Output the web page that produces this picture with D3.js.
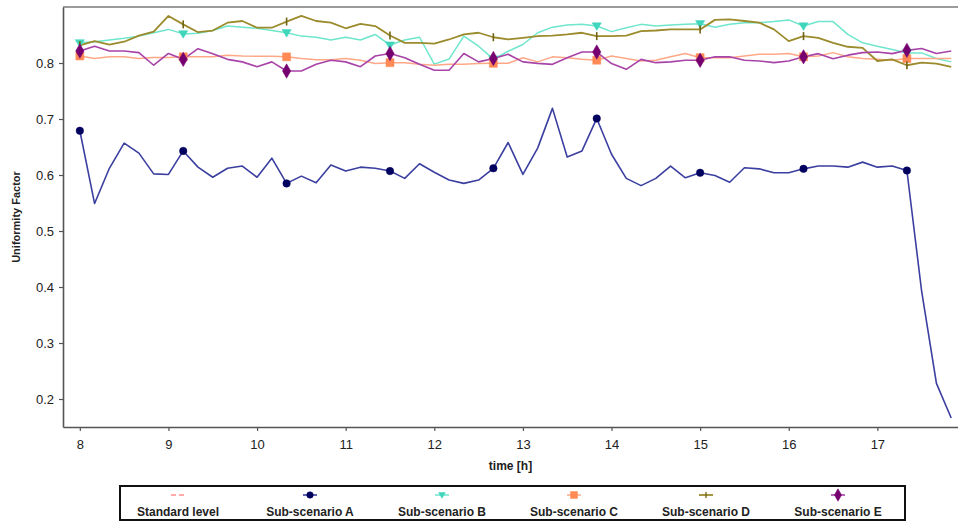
<!DOCTYPE html>
<html>
<head>
<meta charset="utf-8">
<script src="https://cdn.jsdelivr.net/npm/d3@7"></script>
<style>
  body { margin: 0; background: #fff; }
  svg { font-family: "Liberation Sans", Arial, sans-serif; }
</style>
</head>
<body>
<div id="chart"></div>
<script>
const times = [
  "8:00","8:10","8:20","8:30","8:40","8:50","9:00","9:10","9:20","9:30",
  "9:40","9:50","10:00","10:10","10:20","10:30","10:40","10:50","11:00","11:10",
  "11:20","11:30","11:40","11:50","12:00","12:10","12:20","12:30","12:40","12:50",
  "13:00","13:10","13:20","13:30","13:40","13:50","14:00","14:10","14:20","14:30",
  "14:40","14:50","15:00","15:10","15:20","15:30","15:40","15:50","16:00","16:10",
  "16:20","16:30","16:40","16:50","17:00","17:10","17:20","17:30","17:40","17:50"
];

const subA = [
  0.679,0.549,0.612,0.657,0.639,0.602,0.601,0.643,0.614,0.596,
  0.612,0.616,0.596,0.630,0.585,0.598,0.586,0.618,0.607,0.614,
  0.612,0.607,0.594,0.620,0.605,0.591,0.585,0.591,0.612,0.658,
  0.601,0.648,0.719,0.632,0.643,0.701,0.637,0.594,0.581,0.594,
  0.616,0.595,0.604,0.599,0.587,0.613,0.611,0.604,0.604,0.611,
  0.616,0.616,0.614,0.623,0.614,0.616,0.608,0.392,0.228,0.166
];
const subB = [
  0.836,0.838,0.841,0.844,0.848,0.854,0.860,0.852,0.853,0.858,
  0.866,0.864,0.862,0.858,0.854,0.848,0.846,0.841,0.846,0.841,
  0.851,0.832,0.841,0.846,0.798,0.807,0.848,0.830,0.807,0.821,
  0.833,0.854,0.864,0.868,0.869,0.866,0.856,0.863,0.869,0.866,
  0.868,0.869,0.870,0.864,0.869,0.872,0.872,0.874,0.877,0.866,
  0.874,0.874,0.851,0.836,0.830,0.824,0.818,0.818,0.808,0.802
];
const subC = [
  0.8125,0.808,0.811,0.811,0.808,0.810,0.810,0.811,0.811,0.811,
  0.814,0.8125,0.812,0.812,0.811,0.808,0.806,0.806,0.808,0.805,
  0.799,0.8006,0.8006,0.7976,0.796,0.7976,0.7976,0.799,0.7994,0.7994,
  0.8095,0.802,0.811,0.8095,0.8065,0.805,0.8125,0.808,0.8036,0.805,
  0.811,0.817,0.8095,0.8095,0.8095,0.8125,0.8155,0.8155,0.817,0.811,
  0.8125,0.8185,0.811,0.808,0.8065,0.805,0.808,0.808,0.808,0.808
];
const subD = [
  0.8315,0.839,0.833,0.838,0.849,0.856,0.884,0.869,0.855,0.858,
  0.872,0.875,0.863,0.863,0.874,0.884,0.875,0.872,0.862,0.870,
  0.866,0.849,0.836,0.836,0.8345,0.842,0.851,0.854,0.846,0.842,
  0.845,0.848,0.849,0.851,0.854,0.848,0.848,0.849,0.857,0.858,
  0.860,0.860,0.860,0.877,0.878,0.875,0.872,0.860,0.839,0.848,
  0.845,0.836,0.829,0.827,0.8036,0.8065,0.796,0.8006,0.799,0.793
];
const subE = [
  0.8214,0.830,0.8214,0.8214,0.8185,0.796,0.817,0.8065,0.8256,0.8167,
  0.8065,0.802,0.7935,0.802,0.7857,0.7857,0.7976,0.805,0.802,0.7935,
  0.8125,0.817,0.8095,0.7976,0.787,0.787,0.817,0.802,0.808,0.8155,
  0.802,0.7994,0.7976,0.8095,0.8196,0.8196,0.799,0.7887,0.8065,0.8006,
  0.802,0.8048,0.8048,0.811,0.811,0.805,0.8036,0.8006,0.8036,0.811,
  0.8167,0.8077,0.814,0.8185,0.8196,0.8167,0.8226,0.826,0.817,0.8214
];

const xTicks = [8, 9, 10, 11, 12, 13, 14, 15, 16, 17];
const yTicks = [0.2, 0.3, 0.4, 0.5, 0.6, 0.7, 0.8];
const legendNames = ["Standard level", "Sub-scenario A", "Sub-scenario B", "Sub-scenario C", "Sub-scenario D", "Sub-scenario E"];

const W = 958, H = 522;
const plot = { left: 63, right: 958, top: 7, bottom: 427 };
const markerEvery = 7;

const hours = times.map((t) => {
  const [h, m] = t.split(":").map(Number);
  return h + m / 60;
});

const series = [
  { name: "Sub-scenario A", values: subA, line: "#3b3f9f", mark: "#00005e", shape: "circle", width: 1.6 },
  { name: "Sub-scenario B", values: subB, line: "#6fe6cc", mark: "#3fd6bc", shape: "triDown", width: 1.5 },
  { name: "Sub-scenario C", values: subC, line: "#ffa888", mark: "#ff8a55", shape: "square", width: 1.5 },
  { name: "Sub-scenario D", values: subD, line: "#9b8b2c", mark: "#6f6212", shape: "tick", width: 1.8 },
  { name: "Sub-scenario E", values: subE, line: "#a843a8", mark: "#760070", shape: "diamond", width: 1.6 }
];

const svg = d3
  .select("#chart")
  .append("svg")
  .attr("width", W)
  .attr("height", H);

const x = d3.scaleLinear().domain([7.81, 17.91]).range([plot.left, plot.right]);
const y = d3.scaleLinear().domain([0.15, 0.9]).range([plot.bottom, plot.top]);

// frame
svg
  .append("line")
  .attr("x1", plot.left)
  .attr("x2", plot.right)
  .attr("y1", plot.top)
  .attr("y2", plot.top)
  .attr("stroke", "#7a7a7a")
  .attr("stroke-width", 1.5);

const xAxis = svg
  .append("g")
  .attr("transform", "translate(0," + plot.bottom + ")")
  .call(d3.axisBottom(x).tickValues(xTicks).tickSize(4).tickSizeOuter(0).tickFormat(d3.format("d")));

const yAxis = svg
  .append("g")
  .attr("transform", "translate(" + plot.left + ",0)")
  .call(d3.axisLeft(y).tickValues(yTicks).tickSize(4).tickSizeOuter(0).tickFormat(d3.format(".1f")));

[xAxis, yAxis].forEach((g) => {
  g.select(".domain").attr("stroke", "#555").attr("stroke-width", 1.6);
  g.selectAll(".tick line").attr("stroke", "#555").attr("stroke-width", 1.2);
  g.selectAll(".tick text")
    .attr("fill", "#222")
    .style("font-size", "13px")
    .style("font-family", "'Liberation Sans', Arial, sans-serif");
});
xAxis.selectAll(".tick text").attr("dy", "1.15em");
yAxis.selectAll(".tick text").attr("dx", "-2");

// axis titles
svg
  .append("text")
  .attr("x", (plot.left + plot.right) / 2)
  .attr("y", 470)
  .style("text-anchor", "middle")
  .style("font-size", "12px")
  .style("font-weight", "bold")
  .attr("fill", "#222")
  .text("time [h]");

svg
  .append("text")
  .attr("transform", "translate(20," + (plot.top + plot.bottom) / 2 + ") rotate(-90)")
  .style("text-anchor", "middle")
  .style("font-size", "11px")
  .style("font-weight", "bold")
  .attr("fill", "#222")
  .text("Uniformity Factor");

const markerPath = (shape, s) => {
  if (shape === "circle") return d3.symbol().type(d3.symbolCircle).size(s * 11)();
  if (shape === "square") return d3.symbol().type(d3.symbolSquare).size(s * 16)();
  if (shape === "diamond") return d3.symbol().type(d3.symbolDiamond).size(s * 15)();
  if (shape === "triDown") return "M" + -s * 1.15 + "," + -s * 0.8 + "L" + s * 1.15 + "," + -s * 0.8 + "L0," + s * 1.1 + "Z";
  return "M0," + -s + "L0," + s;
};

const line = d3
  .line()
  .x((d, i) => x(hours[i]))
  .y((d) => y(d));

series.forEach((s) => {
  svg
    .append("path")
    .datum(s.values)
    .attr("fill", "none")
    .attr("stroke", s.line)
    .attr("stroke-width", s.width)
    .attr("stroke-linejoin", "round")
    .attr("d", line);
});

series.forEach((s) => {
  svg
    .append("g")
    .selectAll("path")
    .data(s.values.map((v, i) => ({ v, i })).filter((d) => d.i % markerEvery === 0))
    .enter()
    .append("path")
    .attr("transform", (d) => "translate(" + x(hours[d.i]) + "," + y(d.v) + ")")
    .attr("d", markerPath(s.shape, 4))
    .attr("fill", s.shape === "tick" ? "none" : s.mark)
    .attr("stroke", s.mark)
    .attr("stroke-width", s.shape === "tick" ? 1.6 : 0.5);
});

// legend
const legend = svg.append("g");
legend
  .append("rect")
  .attr("x", 120)
  .attr("y", 486)
  .attr("width", 785)
  .attr("height", 34)
  .attr("fill", "#fff")
  .attr("stroke", "#111")
  .attr("stroke-width", 2);

const lx = d3.scaleBand().domain(legendNames).range([112, 904]);

legendNames.forEach((name) => {
  const cx = lx(name) + lx.bandwidth() / 2;
  const s = series.find((d) => d.name === name);
  const g = legend.append("g").attr("transform", "translate(" + cx + ",495)");
  if (!s) {
    g.append("line")
      .attr("x1", -7)
      .attr("x2", 7)
      .attr("stroke", "#ff9090")
      .attr("stroke-width", 1.4)
      .attr("stroke-dasharray", "5,3");
  } else {
    g.append("line")
      .attr("x1", -7)
      .attr("x2", 7)
      .attr("stroke", s.line)
      .attr("stroke-width", s.width);
    g.append("path")
      .attr("d", markerPath(s.shape, 3))
      .attr("fill", s.shape === "tick" ? "none" : s.mark)
      .attr("stroke", s.mark)
      .attr("stroke-width", s.shape === "tick" ? 1.3 : 0.5);
  }
  legend
    .append("text")
    .attr("x", cx)
    .attr("y", 516)
    .style("text-anchor", "middle")
    .style("font-size", "12px")
    .style("font-weight", "bold")
    .attr("fill", "#222")
    .text(name);
});
</script>
</body>
</html>
